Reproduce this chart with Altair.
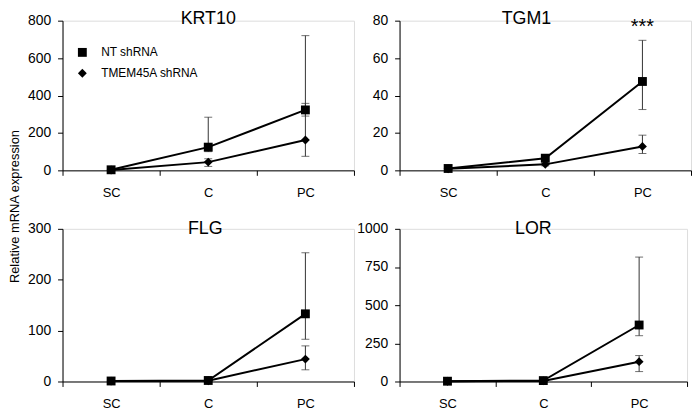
import altair as alt
import pandas as pd

stages = ["SC", "C", "PC"]
series = ["NT shRNA", "TMEM45A shRNA"]

krt10_nt = [3, 124, 323]
krt10_nt_lo = [2, 100, 290]
krt10_nt_hi = [4, 284, 720]
krt10_tm = [2, 44, 162]
krt10_tm_lo = [1, 21, 75]
krt10_tm_hi = [3, 62, 358]

tgm1_nt = [1.0, 6.5, 47.5]
tgm1_nt_lo = [0.8, 5.0, 32.5]
tgm1_nt_hi = [1.2, 8.0, 69.5]
tgm1_tm = [0.8, 3.2, 12.8]
tgm1_tm_lo = [0.6, 2.4, 9.0]
tgm1_tm_hi = [1.0, 4.0, 18.8]

flg_nt = [1.0, 2.0, 133]
flg_nt_lo = [0.8, 1.5, 83]
flg_nt_hi = [1.2, 2.5, 253]
flg_tm = [0.8, 1.5, 44]
flg_tm_lo = [0.6, 1.0, 23]
flg_tm_hi = [1.0, 2.0, 70]

lor_nt = [2, 6, 370]
lor_nt_lo = [1, 4, 300]
lor_nt_hi = [3, 8, 815]
lor_tm = [1.5, 4, 130]
lor_tm_lo = [1, 3, 65]
lor_tm_hi = [2, 5, 170]

ticks_krt10 = [0, 200, 400, 600, 800]
ticks_tgm1 = [0, 20, 40, 60, 80]
ticks_flg = [0, 100, 200, 300]
ticks_lor = [0, 250, 500, 750, 1000]

FONT = "Liberation Sans, Arial, sans-serif"


def make_df(nt, nt_lo, nt_hi, tm, tm_lo, tm_hi):
    rows = []
    for i, st in enumerate(stages):
        rows.append(dict(stage=st, pos=i + 0.5, series=series[0], mean=nt[i], lo=nt_lo[i], hi=nt_hi[i]))
        rows.append(dict(stage=st, pos=i + 0.5, series=series[1], mean=tm[i], lo=tm_lo[i], hi=tm_hi[i]))
    return pd.DataFrame(rows)


label_expr = "(datum.value % 1) == 0.5 ? " + str(stages) + "[floor(datum.value)] : ''"


def panel(df, title, ticks, width, height, title_dx, title_offset, legend=False, ytitle=False, stars=None):
    xscale = alt.Scale(domain=[0, 3], nice=False, zero=False)
    yscale = alt.Scale(domain=[ticks[0], ticks[-1]], nice=False)
    xaxis = alt.Axis(
        values=[0, 0.5, 1, 1.5, 2, 2.5, 3],
        labelExpr=label_expr,
        tickOpacity={"condition": {"test": "(datum.value % 1) == 0.5", "value": 0}, "value": 1},
        tickSize=5, tickColor="black", domainColor="black", labelColor="black",
        labelFontSize=13, labelFont=FONT, labelPadding=11, labelOverlap=False,
        labelFlush=False, grid=False, title=None,
    )
    yaxis_kw = dict(
        values=ticks, format="d", tickSize=5, tickColor="black", domainColor="black", labelColor="black",
        labelFontSize=14, labelFont=FONT, labelPadding=7, grid=False, labelOverlap=False,
        labelFlush=False, minExtent=40, maxExtent=40, tickCount=len(ticks),
    )
    if ytitle:
        yaxis = alt.Axis(title="Relative mRNA expression", titleX=-48, titleY=187, titleAngle=-90,
                         titleAlign="center", titleBaseline="middle", titleFont=FONT,
                         titleFontSize=13, titleFontWeight="normal", titleColor="black", **yaxis_kw)
    else:
        yaxis = alt.Axis(title=None, **yaxis_kw)

    X = alt.X("pos:Q", scale=xscale, axis=xaxis)

    def Y(field):
        return alt.Y(field, scale=yscale, axis=yaxis)

    base = alt.Chart(df)
    err = base.mark_rule(color="#333333", strokeWidth=1).encode(x=X, y=Y("lo:Q"), y2="hi:Q")
    cap_lo = base.mark_tick(color="#333333", thickness=1, size=8, orient="horizontal").encode(
        x=X, y=Y("lo:Q"))
    cap_hi = base.mark_tick(color="#333333", thickness=1, size=8, orient="horizontal").encode(
        x=X, y=Y("hi:Q"))
    lines = base.mark_line(color="black", strokeWidth=2).encode(x=X, y=Y("mean:Q"), detail="series:N")
    shape_scale = alt.Scale(domain=series, range=["square", "diamond"])
    if legend:
        shape_legend = alt.Legend(
            title=None, orient="none", legendX=14, legendY=26, labelFontSize=12,
            labelFont=FONT, labelColor="black", symbolSize=80, symbolFillColor="black",
            symbolStrokeColor="black", rowPadding=5, labelOffset=13, padding=0,
        )
    else:
        shape_legend = None
    pts = base.mark_point(filled=True, color="black", opacity=1, size=80).encode(
        x=X, y=Y("mean:Q"),
        shape=alt.Shape("series:N", scale=shape_scale, legend=shape_legend))
    layers = [err, cap_lo, cap_hi, lines, pts]
    if stars is not None:
        sdf = pd.DataFrame([stars])
        layers.append(alt.Chart(sdf).mark_text(fontSize=20, font=FONT, color="black", baseline="middle").encode(
            x=X, y=Y("y:Q"), text="text:N"))
    return alt.layer(*layers).properties(
        width=width, height=height,
        title=alt.TitleParams(title, fontSize=18, font=FONT, fontWeight="normal", color="black",
                              anchor="middle", frame="group", dx=title_dx, offset=title_offset),
    )


p1 = panel(make_df(krt10_nt, krt10_nt_lo, krt10_nt_hi, krt10_tm, krt10_tm_lo, krt10_tm_hi),
           "KRT10", ticks_krt10, 294, 151, 0, -14, legend=True, ytitle=True)
p2 = panel(make_df(tgm1_nt, tgm1_nt_lo, tgm1_nt_hi, tgm1_tm, tgm1_tm_lo, tgm1_tm_hi),
           "TGM1", ticks_tgm1, 294, 151, -19, -14,
           stars=dict(pos=2.5, y=76.5, text="***"))
p3 = panel(make_df(flg_nt, flg_nt_lo, flg_nt_hi, flg_tm, flg_tm_lo, flg_tm_hi),
           "FLG", ticks_flg, 294, 154, -3, -16)
p4 = panel(make_df(lor_nt, lor_nt_lo, lor_nt_hi, lor_tm, lor_tm_lo, lor_tm_hi),
           "LOR", ticks_lor, 290, 154, -10, -16)

chart = alt.concat(p1, p2, p3, p4, columns=2, spacing={"row": 59, "column": 46}, bounds="flush").resolve_scale(
    shape="independent").resolve_legend(shape="independent").properties(
    padding={"top": -1, "left": 0, "right": 0, "bottom": 0}
).configure_view(stroke=None).configure(background="white")

chart.save("out.html", embed_options={"renderer": "svg", "actions": False})
